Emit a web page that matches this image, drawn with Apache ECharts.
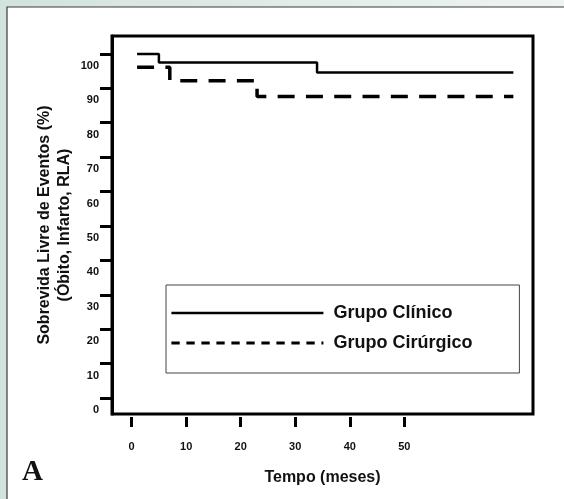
<!DOCTYPE html>
<html>
<head>
<meta charset="utf-8">
<script src="https://cdn.jsdelivr.net/npm/echarts@6/dist/echarts.min.js"></script>
<style>
html,body{margin:0;padding:0;background:#fff;}
#chart{width:564px;height:499px;}
</style>
</head>
<body>
<div id="chart"></div>
<script>
// Data (months, event-free survival %)
const clinicoTimes = [1, 5, 34, 70];
const clinicoValues = [100, 97.5, 94.6, 94.6];
const cirurgicoTimes = [1, 7, 23, 70];
const cirurgicoValues = [96.1, 92.2, 87.6, 87.6];
const xTicks = [0, 10, 20, 30, 40, 50];
const yTicks = [0, 10, 20, 30, 40, 50, 60, 70, 80, 90, 100];
const seriesNames = ['Grupo Clínico', 'Grupo Cirúrgico'];

// In the original figure the y tick labels sit about 12px below their ticks
const yLabelShift = 3.5;

const chart = echarts.init(document.getElementById('chart'), null, {renderer: 'canvas'});
const toPairs = (t, v) => t.map((x, i) => [x, v[i]]);
const font = 'Liberation Sans, Arial, Helvetica, sans-serif';

chart.setOption({
  animation: false,
  backgroundColor: {
    type: 'linear', x: 0, y: 0, x2: 1, y2: 0,
    colorStops: [{offset: 0, color: '#d3e2dd'}, {offset: 1, color: '#eef4f2'}]
  },
  graphic: [
    {type: 'rect', z: -10, silent: true,
     shape: {x: 7, y: 7, width: 570, height: 500},
     style: {fill: '#ffffff', stroke: '#3a3a3a', lineWidth: 1.2}},
    {type: 'text', left: 22, top: 458, silent: true,
     style: {text: 'A', font: 'bold 29px "Liberation Serif", "Times New Roman", serif', fill: '#111'}}
  ],
  grid: {
    left: 112, right: 31, top: 36, bottom: 85,
    show: true, borderColor: '#000', borderWidth: 3, backgroundColor: 'transparent'
  },
  legend: {
    orient: 'vertical',
    left: 166, top: 285,
    padding: [19, 47, 21, 4],
    itemGap: 12,
    itemWidth: 152, itemHeight: 14,
    borderColor: '#444', borderWidth: 1,
    backgroundColor: '#fff',
    itemStyle: {color: 'rgba(0,0,0,0)', borderWidth: 0, opacity: 0},
    textStyle: {fontFamily: font, fontWeight: 'bold', fontSize: 18, color: '#111', padding: [0, 0, 0, 5]},
    data: [
      {name: seriesNames[0], lineStyle: {color: '#000', width: 2.5, type: 'solid'}},
      {name: seriesNames[1], lineStyle: {color: '#000', width: 2.8, type: [8.3, 6.7], dashOffset: 0}}
    ]
  },
  xAxis: {
    type: 'value', min: -3.6, max: 73.6,
    offset: 3,
    axisLine: {show: false, onZero: false},
    splitLine: {show: false},
    axisTick: {show: true, inside: false, length: 10, lineStyle: {color: '#000', width: 3}, customValues: xTicks},
    axisLabel: {customValues: xTicks, margin: 24, fontFamily: font, fontWeight: 'bold', fontSize: 11, color: '#111'},
    name: 'Tempo (meses)', nameLocation: 'middle', nameGap: 53, nameMoveOverlap: false,
    nameTextStyle: {fontFamily: font, fontWeight: 'bold', fontSize: 16, color: '#111'}
  },
  yAxis: {
    type: 'value', min: -4.65, max: 105.2,
    axisLine: {show: true, onZero: false, lineStyle: {color: '#000', width: 3}},
    splitLine: {show: false},
    axisTick: {show: true, inside: false, length: 12, lineStyle: {color: '#000', width: 3}, customValues: yTicks},
    axisLabel: {customValues: yTicks.map(v => v - yLabelShift), margin: 13,
      formatter: v => String(Math.round(v + yLabelShift)),
      fontFamily: font, fontWeight: 'bold', fontSize: 11, color: '#111'},
    name: 'Sobrevida Livre de Eventos (%)\n(Óbito, Infarto, RLA)',
    nameLocation: 'middle', nameRotate: 90, nameGap: 37, nameMoveOverlap: false,
    nameTextStyle: {fontFamily: font, fontWeight: 'bold', fontSize: 16, color: '#111', lineHeight: 20.5, align: 'center'}
  },
  series: [
    {name: seriesNames[0], type: 'line', step: 'end', symbol: 'none',
     data: toPairs(clinicoTimes, clinicoValues),
     lineStyle: {color: '#000', width: 2.5, type: 'solid'}, itemStyle: {color: '#000'}},
    {name: seriesNames[1], type: 'line', step: 'end', symbol: 'none',
     data: toPairs(cirurgicoTimes, cirurgicoValues),
     lineStyle: {color: '#000', width: 3.5, type: [17, 11.3]}, itemStyle: {color: '#000'}}
  ]
});
</script>
</body>
</html>
